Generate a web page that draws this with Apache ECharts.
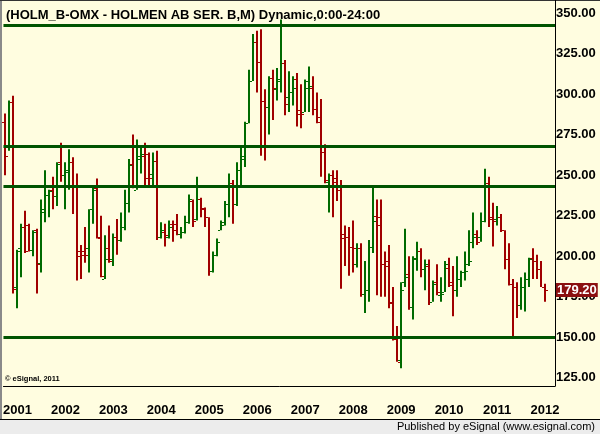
<!DOCTYPE html>
<html>
<head>
<meta charset="utf-8">
<script src="https://cdn.jsdelivr.net/npm/echarts@6/dist/echarts.min.js"></script>
<style>
  html, body { margin: 0; padding: 0; background: #fffde0; }
  #chart { width: 600px; height: 434px; }
</style>
</head>
<body>
<div id="chart"></div>
<script>
// monthly bars, Oct 2000 .. Jan 2012 (two empty slots at the right)
const firstYear = 2000, firstMonth = 10, slots = 138;

const opens = [283,268,295,181,205,218,219,204,216,196,227,238,241,237,258,250,252,258,244,203,
  203,205,229,242,211,186,205,198,212,210,218,233,257,241,260,262,263,251,259,212,
  215,212,220,220,214,215,221,234,223,235,229,224,191,201,216,219,232,245,232,253,
  260,282,308,332,320,296,292,310,303,308,319,298,301,309,290,289,304,304,291,283,
  264,246,250,248,241,214,212,206,195,205,177,179,206,225,224,195,197,172,149,136,
  184,189,169,198,203,192,194,172,184,176,178,193,182,179,186,190,195,209,214,212,
  222,245,224,223,224,216,198,183,181,170,181,186,199,197,192,181];
const highs = [288,296,299,204,220,228,220,216,217,235,253,241,249,258,270,258,266,261,251,207,
  218,229,244,248,225,213,219,214,223,227,241,260,275,272,268,270,264,264,265,221,
  220,222,222,226,218,225,238,235,249,236,230,224,203,211,222,234,251,247,258,267,
  283,315,337,339,340,303,311,315,316,346,321,314,311,313,306,309,317,311,301,297,
  269,251,253,253,247,219,218,222,208,208,197,210,243,235,235,203,207,181,157,184,
  217,200,200,209,205,198,198,185,195,187,197,199,194,200,191,203,216,227,216,227,
  254,249,233,231,226,216,208,186,184,187,190,199,205,201,197,183];
const lows = [250,265,177,168,187,202,203,200,177,190,221,224,229,231,246,229,241,226,185,186,
  196,190,220,211,187,186,196,194,201,209,216,227,242,241,251,244,244,244,210,211,
  206,211,209,213,211,214,220,218,222,224,218,188,190,200,216,219,224,220,231,244,
  255,282,308,301,262,259,275,284,296,301,287,289,293,280,279,289,289,287,282,249,
  245,227,224,234,180,194,188,190,193,175,165,172,202,176,175,175,168,148,135,131,
  181,167,161,191,187,179,170,172,176,172,178,181,163,175,181,185,194,205,207,209,
  221,218,206,219,215,192,182,149,162,167,166,181,186,186,181,172];
const closes = [262,295,180,203,218,203,204,215,195,229,243,240,237,257,250,253,258,243,200,201,
  201,229,241,212,188,198,197,212,210,218,233,256,243,262,263,248,248,259,212,216,
  213,218,216,214,215,221,235,222,235,230,224,191,201,209,221,232,245,232,253,262,
  282,308,332,320,296,292,310,304,309,319,294,301,304,288,288,308,305,291,286,264,
  247,250,246,241,211,212,206,205,205,177,179,206,222,219,195,194,171,149,135,179,
  187,169,199,203,192,195,172,183,178,177,195,184,179,186,190,191,197,212,209,222,
  245,223,222,224,216,198,183,181,170,181,186,198,197,192,181,179.2];

const levels = [342.3, 268, 243.2, 150];
const lastPrice = 179.2;
const yTickStep = 25;

const months = [];
for (let i = 0; i < slots; i++) {
  const m = (firstMonth - 1 + i) % 12 + 1;
  const y = firstYear + Math.floor((firstMonth - 1 + i) / 12);
  months.push(y + '-' + (m < 10 ? '0' + m : m));
}
const bars = opens.map((o, i) => [i, o, highs[i], lows[i], closes[i]]);

const GREEN = '#006a00', RED = '#a00000', LEVEL = '#005400';
const FONT = 'Liberation Sans';

const chart = echarts.init(document.getElementById('chart'));
chart.setOption({
  backgroundColor: '#fffde0',
  animation: false,
  title: {
    text: '(HOLM_B-OMX - HOLMEN AB SER. B,M) Dynamic,0:00-24:00',
    left: 1, top: 4,
    textStyle: { fontFamily: FONT, fontSize: 13, fontWeight: 'bold', color: '#000' }
  },
  grid: { left: 2, right: 45, top: 0, bottom: 48 },
  xAxis: {
    type: 'category',
    data: months,
    boundaryGap: true,
    axisLine: { lineStyle: { color: '#000', width: 1 } },
    axisTick: {
      alignWithLabel: true,
      length: 3,
      lineStyle: { color: '#000' },
      interval: (i) => i % 12 === 0 && i !== 12
    },
    axisLabel: {
      interval: (i, v) => v.endsWith('-01'),
      formatter: (v) => v.slice(0, 4),
      margin: 18,
      fontFamily: FONT, fontSize: 13, fontWeight: 'bold', color: '#000'
    },
    splitLine: { show: false }
  },
  yAxis: {
    type: 'value',
    position: 'right',
    min: 120, max: 358, interval: 5,
    axisLine: { show: true, lineStyle: { color: '#000' } },
    axisTick: { show: false },
    splitLine: { show: false },
    axisLabel: {
      margin: 1,
      formatter: (v) => (v % yTickStep === 0 ? v.toFixed(2) : ''),
      fontFamily: FONT, fontSize: 13, fontWeight: 'bold', color: '#000'
    }
  },
  graphic: [
    { type: 'rect', left: 0, top: 0, shape: { width: 2, height: 434 }, style: { fill: '#8a8a8a' } },
    { type: 'rect', left: 0, top: 0, shape: { width: 600, height: 1 }, style: { fill: '#333' } },
    { type: 'rect', left: 0, top: 419, shape: { width: 600, height: 15 }, style: { fill: '#ececec', stroke: null } },
    { type: 'rect', left: 0, top: 419, shape: { width: 600, height: 1 }, style: { fill: '#000' } },
    { type: 'text', right: 5, top: 421, style: { text: 'Published by eSignal (www.esignal.com)', font: '11px "Liberation Sans"', fill: '#000' } },
    { type: 'text', left: 5, top: 375, style: { text: '\u00a9 eSignal, 2011', font: 'bold 7.5px "Liberation Sans"', fill: '#000' } }
  ],
  series: [{
    type: 'custom',
    data: bars,
    encode: { x: 0, y: [1, 2, 3, 4] },
    renderItem: function (params, api) {
      const idx = api.value(0);
      const h = api.coord([idx, api.value(2)]);
      const l = api.coord([idx, api.value(3)]);
      const o = api.coord([idx, api.value(1)]);
      const c = api.coord([idx, api.value(4)]);
      const x = Math.round(h[0]);
      const col = api.value(4) >= api.value(1) ? GREEN : RED;
      const st = { stroke: col, lineWidth: 2 };
      return {
        type: 'group',
        children: [
          { type: 'line', shape: { x1: x, y1: h[1], x2: x, y2: l[1] }, style: st },
          { type: 'line', shape: { x1: x - 3, y1: Math.round(o[1]) + 0.5, x2: x - 1, y2: Math.round(o[1]) + 0.5 }, style: { stroke: col, lineWidth: 1 } },
          { type: 'line', shape: { x1: x + 1, y1: Math.round(c[1]) + 0.5, x2: x + 3, y2: Math.round(c[1]) + 0.5 }, style: { stroke: col, lineWidth: 1 } }
        ]
      };
    },
    markLine: {
      silent: true,
      symbol: 'none',
      animation: false,
      data: levels.map((v) => ({
        yAxis: v,
        lineStyle: { color: LEVEL, width: 3, type: 'solid' },
        label: { show: false }
      })).concat([{
        yAxis: lastPrice,
        lineStyle: { color: 'rgba(0,0,0,0)', width: 0 },
        label: {
          show: true, position: 'end', distance: 1,
          formatter: lastPrice.toFixed(2),
          backgroundColor: '#8b1010', color: '#fff',
          fontFamily: FONT, fontSize: 13, fontWeight: 'bold',
          padding: [1, 1, 0, 1]
        }
      }])
    }
  }]
});
</script>
</body>
</html>
